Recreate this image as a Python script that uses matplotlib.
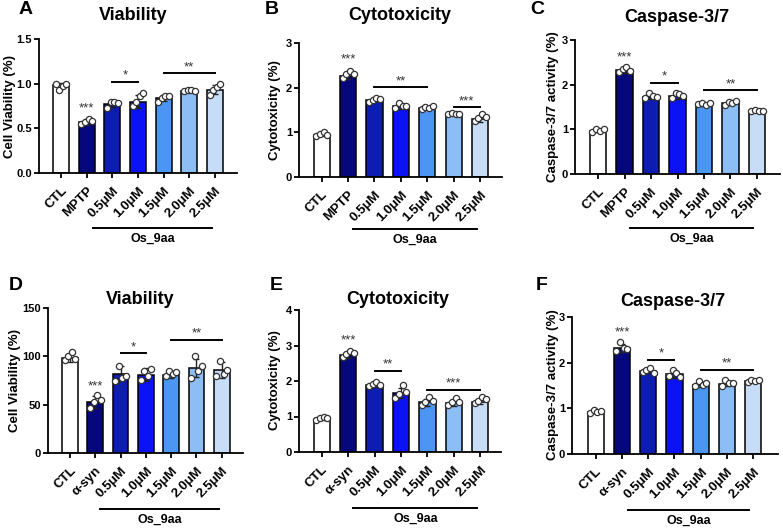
import matplotlib
matplotlib.use("Agg")
import matplotlib.pyplot as plt
import matplotlib.transforms as mtransforms

W, H = 783, 532

# ---------------- data ----------------
labels_mptp = ["CTL", "MPTP", "0.5μM", "1.0μM", "1.5μM", "2.0μM", "2.5μM"]
labels_syn = ["CTL", "α-syn", "0.5μM", "1.0μM", "1.5μM", "2.0μM", "2.5μM"]

A_mean = [0.98, 0.57, 0.77, 0.80, 0.84, 0.92, 0.93]
A_sd = [0.03, 0.03, 0.03, 0.07, 0.03, 0.01, 0.05]
A_pts = [[1.00, 0.93, 0.97, 1.00], [0.55, 0.57, 0.61, 0.58], [0.73, 0.79, 0.80, 0.78],
         [0.75, 0.80, 0.86, 0.89], [0.80, 0.84, 0.86, 0.86], [0.92, 0.93, 0.93, 0.92],
         [0.87, 0.93, 0.96, 1.00]]

B_mean = [0.95, 2.27, 1.72, 1.58, 1.55, 1.41, 1.30]
B_sd = [0.04, 0.08, 0.04, 0.06, 0.03, 0.02, 0.07]
B_pts = [[0.92, 0.97, 1.00, 0.95], [2.22, 2.30, 2.38, 2.30], [1.68, 1.72, 1.77, 1.75],
         [1.55, 1.65, 1.60, 1.58], [1.52, 1.57, 1.55, 1.58], [1.40, 1.43, 1.42, 1.40],
         [1.25, 1.33, 1.40, 1.35]]

C_mean = [0.97, 2.32, 1.73, 1.75, 1.55, 1.58, 1.41]
C_sd = [0.03, 0.06, 0.06, 0.06, 0.03, 0.04, 0.02]
C_pts = [[0.95, 1.00, 0.97, 1.00], [2.28, 2.35, 2.40, 2.30], [1.70, 1.82, 1.75, 1.72],
         [1.70, 1.82, 1.78, 1.75], [1.57, 1.60, 1.55, 1.58], [1.55, 1.62, 1.60, 1.63],
         [1.42, 1.43, 1.40, 1.42]]

D_mean = [98, 53, 82, 81, 81, 88, 86]
D_sd = [4, 6, 8, 7, 3, 9, 8]
D_pts = [[96, 100, 105, 97], [47, 53, 60, 55], [75, 90, 78, 80], [76, 85, 80, 87],
         [80, 85, 82, 84], [78, 100, 85, 90], [80, 95, 82, 86]]

E_mean = [0.93, 2.72, 1.90, 1.66, 1.40, 1.38, 1.42]
E_sd = [0.04, 0.07, 0.06, 0.15, 0.10, 0.08, 0.07]
E_pts = [[0.90, 0.95, 0.99, 0.97], [2.68, 2.75, 2.85, 2.80], [1.85, 1.92, 1.98, 1.90],
         [1.52, 1.62, 1.89, 1.68], [1.32, 1.40, 1.56, 1.44], [1.33, 1.40, 1.52, 1.42],
         [1.38, 1.44, 1.55, 1.48]]

F_mean = [0.92, 2.32, 1.82, 1.75, 1.52, 1.53, 1.60]
F_sd = [0.03, 0.09, 0.04, 0.08, 0.05, 0.05, 0.02]
F_pts = [[0.90, 0.97, 0.92, 0.95], [2.25, 2.45, 2.32, 2.30], [1.80, 1.85, 1.88, 1.78],
         [1.70, 1.85, 1.78, 1.68], [1.48, 1.60, 1.52, 1.55], [1.50, 1.62, 1.55, 1.55],
         [1.58, 1.62, 1.60, 1.63]]

# significance: (bar_from, bar_to, y, text); top star: (bar, y, text)
A_sig = [(2, 3, 1.02, "*"), (4, 6, 1.12, "**")]
B_sig = [(2, 4, 2.01, "**"), (5, 6, 1.56, "***")]
C_sig = [(2, 3, 2.04, "*"), (4, 6, 1.87, "**")]
D_sig = [(2, 3, 103, "*"), (4, 6, 117, "**")]
E_sig = [(2, 3, 2.29, "**"), (4, 6, 1.75, "***")]
F_sig = [(2, 3, 2.06, "*"), (4, 6, 1.85, "**")]
A_top = (1, 0.66, "***")
B_top = (1, 2.50, "***")
C_top = (1, 2.48, "***")
D_top = (1, 63, "***")
E_top = (1, 2.96, "***")
F_top = (1, 2.54, "***")

bracket_label = "Os_9aa"

colors = ["#ffffff", "#07077c", "#0d1db2", "#0b12f4", "#4c96f3", "#8dbdf5", "#c7dcf7"]
jitter = [-0.21, -0.07, 0.07, 0.21]

FONT = ["Liberation Sans", "DejaVu Sans"]
plt.rcParams["font.family"] = FONT
fig = plt.figure(figsize=(W / 100, H / 100), dpi=100)


def rect(l, t, r, b):
    return [l / W, 1 - b / H, (r - l) / W, (b - t) / H]


def panel(letter, title, ylabel, labels, mean, sd, pts, sig, top, ymax, yticks,
          ytlabels, box, xlim, letter_xy, title_xy, ylabel_xy, br_y, br_x, br_text_y):
    l, t, r, b = box
    ax = fig.add_axes(rect(l, t, r, b))
    x = list(range(len(labels)))
    ax.bar(x, mean, width=0.62, color=colors, edgecolor="black", linewidth=1.1, zorder=2)
    ax.errorbar(x, mean, yerr=sd, fmt="none", ecolor="#222222", elinewidth=1.0,
                capsize=2.5, capthick=1.0, zorder=3)
    for i, p in enumerate(pts):
        xs = [i + j for j in jitter]
        ax.scatter(xs, p, s=20, facecolor="white", edgecolor="#333333",
                   linewidths=0.9, zorder=4)
    for (a1, a2, y, txt) in sig:
        ax.plot([a1, a2], [y, y], color="black", lw=1.4, zorder=5, clip_on=False)
        ax.text((a1 + a2) / 2, y, txt, ha="center", va="bottom", fontsize=9.5,
                color="#333333", zorder=5)
    ax.text(top[0], top[1], top[2], ha="center", va="bottom", fontsize=9.5,
            color="#333333", zorder=5)
    ax.set_xlim(*xlim)
    ax.set_ylim(0, ymax)
    ax.set_yticks(yticks)
    ax.set_yticklabels(ytlabels, fontsize=8, fontweight="bold")
    ax.set_xticks(x)
    ax.set_xticklabels(labels, rotation=45, ha="right", rotation_mode="anchor",
                       fontsize=9.5, fontweight="bold")
    for s in ["top", "right"]:
        ax.spines[s].set_visible(False)
    for s in ["left", "bottom"]:
        ax.spines[s].set_linewidth(1.3)
    ax.tick_params(axis="both", length=3.5, width=1.3, pad=1.5)
    ax.tick_params(axis="x", pad=5)
    # bracket under labels
    trans = mtransforms.blended_transform_factory(ax.transData, ax.transAxes)
    fy = (b - br_y) / (b - t)
    ax.plot([br_x[0], br_x[1]], [fy, fy], color="black", lw=1.4, transform=trans,
            clip_on=False)
    fty = (b - br_text_y) / (b - t)
    ax.text((br_x[0] + br_x[1]) / 2, fty, bracket_label, transform=trans, ha="center",
            va="center", fontsize=9, fontweight="bold")
    fig.text(letter_xy[0] / W, 1 - letter_xy[1] / H, letter, fontsize=14,
             fontweight="bold", ha="center", va="center")
    fig.text(title_xy[0] / W, 1 - title_xy[1] / H, title, fontsize=13,
             fontweight="bold", ha="center", va="center")
    fig.text(ylabel_xy[0] / W, 1 - ylabel_xy[1] / H, ylabel, fontsize=9.5,
             fontweight="bold", ha="center", va="center", rotation=90)
    return ax


panel("A", "Viability", "Cell Viability (%)", labels_mptp, A_mean, A_sd, A_pts, A_sig,
      A_top, 1.5, [0, 0.5, 1.0, 1.5], ["0.0", "0.5", "1.0", "1.5"],
      (39, 39, 237, 173), (-0.86, 6.86), (26, 10), (133, 16), (10, 107), 228, (1.25, 5.9), 239)
panel("B", "Cytotoxicity", "Cytotoxicity (%)", labels_mptp, B_mean, B_sd, B_pts, B_sig,
      B_top, 3, [0, 1, 2, 3], ["0", "1", "2", "3"],
      (299, 43, 502, 177), (-0.86, 6.83), (272, 10), (400, 16), (275, 110), 229, (1.2, 5.87), 240)
panel("C", "Caspase-3/7", "Caspase-3/7 activity (%)", labels_mptp, C_mean, C_sd, C_pts,
      C_sig, C_top, 3, [0, 1, 2, 3], ["0", "1", "2", "3"],
      (575, 40, 780, 174), (-0.87, 6.87), (537, 10), (677, 18), (553, 107), 228, (1.2, 5.85), 239)
panel("D", "Viability", "Cell Viability (%)", labels_syn, D_mean, D_sd, D_pts, D_sig,
      D_top, 150, [0, 50, 100, 150], ["0", "50", "100", "150"],
      (48, 308, 243, 453), (-0.87, 6.84), (16, 285), (140, 300), (15, 380), 509, (1.19, 5.9), 520)
panel("E", "Cytotoxicity", "Cytotoxicity (%)", labels_syn, E_mean, E_sd, E_pts, E_sig,
      E_top, 4, [0, 1, 2, 3, 4], ["0", "1", "2", "3", "4"],
      (299, 310, 501, 452), (-0.86, 6.79), (276, 285), (398, 300), (275, 380), 508, (1.2, 5.9), 519)
panel("F", "Caspase-3/7", "Caspase-3/7 activity (%)", labels_syn, F_mean, F_sd, F_pts,
      F_sig, F_top, 3, [0, 1, 2, 3], ["0", "1", "2", "3"],
      (572, 317, 778, 454), (-0.9, 6.94), (542, 285), (673, 302), (553, 385), 510, (1.25, 5.85), 521)

fig.savefig("out.png", dpi=100)
